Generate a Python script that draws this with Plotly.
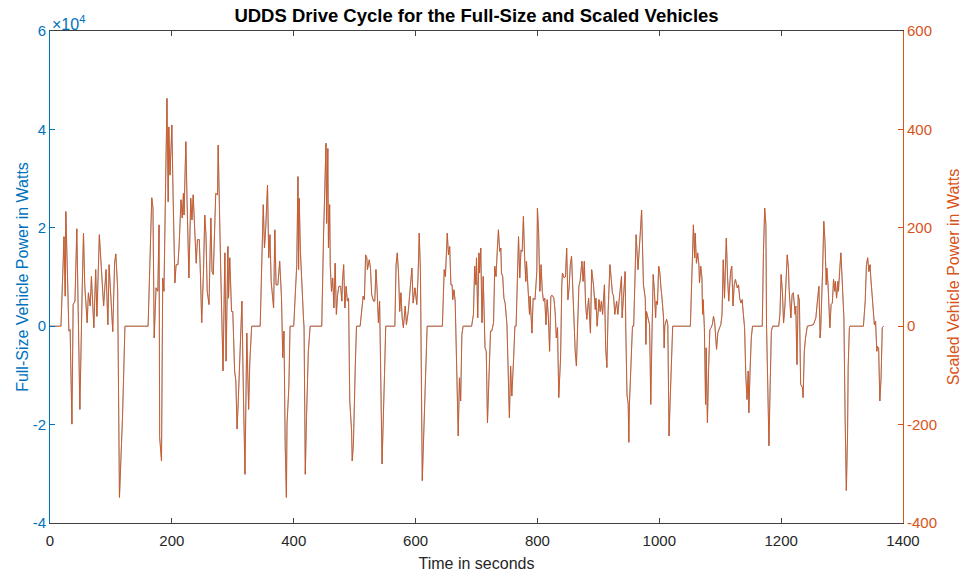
import plotly.graph_objects as go

# Time in seconds (samples)
time_s = [0,18,23,25,26,29,31,33,36,38,41,44,46,49,53,55,57,61,63,66,68,72,75,77,81,85,88,92,95,97,100,103,106,108,111,114,119,123,161,167,169,171,174,177,179,180,183,185,187,190,192,194,195,197,200,202,205,207,210,212,215,217,219,220,223,225,228,231,233,235,237,240,242,245,247,249,252,254,256,258,261,264,266,268,272,275,276,278,280,282,284,287,289,292,293,295,298,300,303,305,307,309,312,315,317,320,323,325,326,328,331,345,350,352,354,357,359,361,363,367,369,371,374,377,380,382,384,386,388,389,392,394,400,405,407,408,409,411,413,416,417,419,421,424,427,446,449,451,453,454,456,457,459,460,462,464,466,468,470,472,474,477,479,480,482,484,486,488,490,492,495,496,498,501,503,509,512,514,516,518,520,521,524,526,528,531,533,535,537,539,541,543,545,549,551,566,568,570,572,574,576,578,580,583,585,588,590,592,594,596,599,602,604,606,608,611,614,617,619,644,647,649,651,652,654,656,658,660,661,663,665,666,669,670,672,674,676,678,692,695,697,699,700,702,704,705,707,709,711,714,716,718,721,723,725,728,730,732,734,736,738,740,741,743,745,747,750,752,753,754,756,758,761,763,765,767,769,771,773,775,777,779,781,782,785,787,788,791,793,796,799,800,802,804,806,808,810,812,814,816,818,820,822,824,827,829,831,833,835,838,840,841,844,846,848,850,852,854,856,858,860,862,864,866,868,870,873,875,877,879,881,884,886,887,889,892,895,896,898,901,903,905,907,910,912,914,916,919,921,923,925,927,930,932,934,936,938,939,942,944,945,947,949,950,951,954,956,958,960,962,965,967,969,971,972,974,977,978,979,981,984,985,986,988,990,992,994,995,997,999,1001,1003,1004,1007,1008,1009,1012,1014,1016,1018,1020,1022,1051,1054,1056,1058,1059,1061,1063,1065,1066,1068,1070,1071,1072,1074,1076,1077,1079,1081,1083,1085,1087,1089,1091,1094,1096,1099,1101,1103,1105,1107,1110,1112,1114,1117,1119,1121,1123,1125,1128,1130,1132,1134,1136,1138,1140,1142,1144,1146,1147,1149,1151,1153,1169,1171,1173,1175,1176,1178,1180,1182,1184,1186,1196,1198,1200,1202,1204,1206,1208,1210,1212,1213,1216,1218,1220,1223,1224,1226,1228,1230,1232,1235,1236,1238,1240,1243,1253,1257,1260,1262,1264,1265,1268,1270,1272,1274,1275,1277,1280,1282,1284,1286,1288,1289,1291,1293,1294,1296,1298,1299,1300,1303,1305,1306,1307,1309,1310,1312,1313,1335,1338,1340,1342,1344,1346,1347,1349,1351,1353,1355,1357,1358,1360,1362,1364,1366,1368]

# Full-size vehicle power, in units of 10^4 W (as read on the left axis)
full_size_power_1e4w = [0,0,1.82,0.61,2.33,0.57,-0.10,-0.07,-1.99,0.44,0.51,1.98,0.30,-1.69,0.84,1.89,0.84,0.07,0.68,0.41,1.01,-0.03,1.15,0.20,1.86,1.01,0.41,1.15,0.03,1.25,0.57,-0.11,1.28,1.47,0.78,-3.48,-1.86,0,0,2.61,2.40,-0.24,0.78,0.71,2.06,-2.26,-2.74,0.98,0.71,2.60,4.63,2.53,4.05,3.07,4.09,2.67,0.88,1.25,1.25,1.66,2.57,2.20,2.70,2.26,3.75,2.53,0.98,2.60,2.16,2.67,2.13,1.28,1.76,1.76,1.01,0.07,1.15,2.26,1.86,0.71,0.44,2.20,1.11,1.05,2.70,2.67,3.68,2.16,1.25,0.17,-0.91,1.49,-0.71,1.62,0.57,1.39,0.30,0.30,-0.91,-1.11,-2.09,-1.52,-0.64,0.51,-1.05,-3.01,-0.14,-0.88,-1.69,-0.71,0,0,2.47,1.59,1.99,2.87,1.39,1.86,0.91,0.37,1.96,0.84,0.84,1.32,0.57,-0.64,-0.10,-2.40,-3.48,-1.99,-1.25,0,0,1.25,3.04,1.15,2.60,1.52,0.84,0.17,-0.03,-3.01,-1.86,-0.51,0,0,1.86,3.07,3.72,2.09,3.61,1.59,2.47,1.22,0.71,0.98,0.37,1.28,0.24,0.64,0.81,0.81,0.51,0.91,1.25,0.37,0.81,0.51,0.57,-1.52,-2.13,-2.74,-2.40,-0.84,0,0,0.34,0.61,0.54,1.45,1.39,1.15,1.35,1.18,0.64,0.51,0.51,1.15,0.71,0.07,0.51,-0.98,-2.80,-0.98,0,0,1.25,1.49,1.08,0.30,0.68,0.17,-0.03,0.41,0.03,0.30,0.57,0.98,1.18,0.47,0.78,0.44,0.98,1.89,1.11,-3.14,-1.86,-0.37,0,0,1.15,1.01,1.52,1.89,1.45,1.62,0.84,0.84,0.54,0.74,0.51,-0.03,-1.59,-2.23,-1.05,-1.52,-0.17,0,0,0.24,1.22,0.84,1.39,0.17,1.49,1.08,1.59,0.07,1.01,-0.44,-0.51,-1.96,-0.84,-0.10,-0.10,0.07,1.22,1.01,1.52,1.96,1.52,1.59,1.08,1.01,0.57,0.47,0.03,-1.32,-1.62,-1.86,-0.81,-1.42,-0.64,0,0,0.71,1.82,0.98,1.55,1.52,2.23,1.39,0.91,1.32,0.61,0.24,0.61,-0.14,0.57,0.54,1.11,2.40,1.89,0.71,1.25,0.71,0.51,0.57,0.03,0.54,0.17,-0.51,0.61,0.63,0.57,0.30,-0.24,-0.03,-1.45,-0.64,0.84,1.08,0.98,1.01,1.59,0.54,0.78,1.25,1.42,0.71,0.24,-0.51,-0.81,-0.03,0.81,0.91,1.32,0.91,1.32,0.47,0.14,0.57,0.10,-0.14,1.15,0.84,0.34,0.57,0,0.54,0.30,0.51,0.24,0.84,-0.44,-0.84,0.30,1.25,0.98,0.68,0.61,0.24,0.51,0.24,0.51,0.71,1.01,0.17,0.84,1.11,-0.03,-1.39,-1.59,-2.36,-1.59,-0.37,0,0,0.84,1.86,1.15,1.45,1.93,2.36,1.72,0.84,0.57,-0.37,0.30,0.17,0.03,-0.71,-1.59,-0.17,1.05,0.71,0.17,0.51,0.44,1.22,1.08,0.74,0.64,0.17,-0.44,0,0.14,0.03,-2.23,-1.45,-0.44,0,0,1.11,2.06,1.39,1.89,1.28,1.49,1.25,0.88,1.22,0.98,0.24,0.54,-0.03,-1.59,-0.44,-1.96,-0.84,-0.07,-0.03,0.03,0.20,0.07,-0.47,-0.14,-0.03,0.03,0.24,1.35,0.57,1.79,1.01,0.51,1.11,1.22,0.41,0.84,0.95,0.78,0.84,0.57,0.47,0.54,0.24,-0.03,-1.01,-1.49,-0.91,-1.76,-0.91,-0.24,0,0,1.52,2.40,2.06,0.03,-1.18,-2.43,-1.18,-0.10,0,0,0.24,1.05,0.71,0.07,0.37,0.91,1.45,1.18,0.78,0.17,0.64,0.68,0.24,0.41,-0.78,0.64,0.51,-1.18,-1.25,-1.45,-0.51,-0.24,0,0.03,0.17,0.57,0.81,-0.24,-0.03,1.11,2.13,1.72,0.84,1.18,0.84,-0.03,0.44,0.47,0.95,0.71,0.91,0.57,0.91,0.71,1.11,1.49,1.25,0.98,0.17,-1.86,-3.01,-3.34,-2.20,-0.84,-0.03,0,0,0.51,1.25,1.39,1.11,1.25,1.01,0.64,0.17,0.03,0.10,-0.51,-0.41,-0.44,-1.52,-1.05,-0.03,0]

# Scaled vehicle power, W (as read on the right axis)
scaled_power_w = [0,0,182,61,233,57,-10,-7,-199,44,51,198,30,-169,84,189,84,7,68,41,101,-3,115,20,186,101,41,115,3,125,57,-11,128,147,78,-348,-186,0,0,261,240,-24,78,71,206,-226,-274,98,71,260,463,253,405,307,409,267,88,125,125,166,257,220,270,226,375,253,98,260,216,267,213,128,176,176,101,7,115,226,186,71,44,220,111,105,270,267,368,216,125,17,-91,149,-71,162,57,139,30,30,-91,-111,-209,-152,-64,51,-105,-301,-14,-88,-169,-71,0,0,247,159,199,287,139,186,91,37,196,84,84,132,57,-64,-10,-240,-348,-199,-125,0,0,125,304,115,260,152,84,17,-3,-301,-186,-51,0,0,186,307,372,209,361,159,247,122,71,98,37,128,24,64,81,81,51,91,125,37,81,51,57,-152,-213,-274,-240,-84,0,0,34,61,54,145,139,115,135,118,64,51,51,115,71,7,51,-98,-280,-98,0,0,125,149,108,30,68,17,-3,41,3,30,57,98,118,47,78,44,98,189,111,-314,-186,-37,0,0,115,101,152,189,145,162,84,84,54,74,51,-3,-159,-223,-105,-152,-17,0,0,24,122,84,139,17,149,108,159,7,101,-44,-51,-196,-84,-10,-10,7,122,101,152,196,152,159,108,101,57,47,3,-132,-162,-186,-81,-142,-64,0,0,71,182,98,155,152,223,139,91,132,61,24,61,-14,57,54,111,240,189,71,125,71,51,57,3,54,17,-51,61,63,57,30,-24,-3,-145,-64,84,108,98,101,159,54,78,125,142,71,24,-51,-81,-3,81,91,132,91,132,47,14,57,10,-14,115,84,34,57,0,54,30,51,24,84,-44,-84,30,125,98,68,61,24,51,24,51,71,101,17,84,111,-3,-139,-159,-236,-159,-37,0,0,84,186,115,145,193,236,172,84,57,-37,30,17,3,-71,-159,-17,105,71,17,51,44,122,108,74,64,17,-44,0,14,3,-223,-145,-44,0,0,111,206,139,189,128,149,125,88,122,98,24,54,-3,-159,-44,-196,-84,-7,-3,3,20,7,-47,-14,-3,3,24,135,57,179,101,51,111,122,41,84,95,78,84,57,47,54,24,-3,-101,-149,-91,-176,-91,-24,0,0,152,240,206,3,-118,-243,-118,-10,0,0,24,105,71,7,37,91,145,118,78,17,64,68,24,41,-78,64,51,-118,-125,-145,-51,-24,0,3,17,57,81,-24,-3,111,213,172,84,118,84,-3,44,47,95,71,91,57,91,71,111,149,125,98,17,-186,-301,-334,-220,-84,-3,0,0,51,125,139,111,125,101,64,17,3,10,-51,-41,-44,-152,-105,-3,0]

x_ticks = [0, 200, 400, 600, 800, 1000, 1200, 1400]
left_ticks = [-4, -2, 0, 2, 4, 6]
left_tick_text = ["-4", "-2", "0", "2", "4", "6"]
right_ticks = [-400, -200, 0, 200, 400, 600]
right_tick_text = ["-400", "-200", "0", "200", "400", "600"]

BLUE = "#0072BD"
ORANGE = "#D95319"
AXIS = "#404040"
FONT = "Liberation Sans, Arial, Helvetica, sans-serif"

fig = go.Figure()
fig.add_trace(go.Scatter(x=time_s, y=full_size_power_1e4w, mode="lines",
                         line=dict(color=BLUE, width=0.5), yaxis="y",
                         name="Full-Size", showlegend=False))
fig.add_trace(go.Scatter(x=time_s, y=scaled_power_w, mode="lines",
                         line=dict(color=ORANGE, width=0.9), yaxis="y2",
                         name="Scaled", showlegend=False))

fig.update_layout(
    width=966, height=578,
    margin=dict(l=50, r=63, t=31, b=55, autoexpand=False),
    paper_bgcolor="white", plot_bgcolor="white",
    font=dict(family=FONT, size=15, color="#262626"),
    title=dict(text="<b>UDDS Drive Cycle for the Full-Size and Scaled Vehicles</b>",
               x=0.5, xref="paper", xanchor="center",
               y=1 - 16 / 578, yref="container", yanchor="middle",
               font=dict(size=18.5, color="#000000"), automargin=False),
    xaxis=dict(range=[0, 1400], tickvals=x_ticks, ticks="inside", ticklen=5,
               showline=True, linecolor=AXIS, linewidth=1, mirror="ticks",
               showgrid=False, zeroline=False, automargin=False,
               ticklabelstandoff=4,
               tickfont=dict(size=15, color="#262626"),
               title=dict(text="Time in seconds", font=dict(size=16, color="#262626"), standoff=9)),
    yaxis=dict(range=[-4, 6], tickvals=left_ticks, ticktext=left_tick_text,
               ticks="inside", ticklen=5,
               showline=True, linecolor=BLUE, linewidth=1, tickcolor=BLUE,
               showgrid=False, zeroline=False, automargin=False,
               tickfont=dict(size=15, color=BLUE),
               title=dict(text="Full-Size Vehicle Power in Watts", font=dict(size=16, color=BLUE), standoff=0)),
    yaxis2=dict(range=[-400, 600], tickvals=right_ticks, ticktext=right_tick_text,
                ticks="inside", ticklen=5,
                overlaying="y", side="right", anchor="x",
                showline=True, linecolor=ORANGE, linewidth=1, tickcolor=ORANGE,
                showgrid=False, zeroline=False, automargin=False,
                tickfont=dict(size=15, color=ORANGE),
                title=dict(text="Scaled Vehicle Power in Watts", font=dict(size=16, color=ORANGE), standoff=11)),
)

fig.add_annotation(text="×10<sup>4</sup>", xref="paper", yref="paper", x=0, y=1,
                   xanchor="left", yanchor="bottom", showarrow=False,
                   font=dict(size=16, color=BLUE, family=FONT), yshift=-4)

fig.write_html("out.html", config={"displayModeBar": False},
               post_script="document.body.style.margin='0';document.body.style.padding='0';")
